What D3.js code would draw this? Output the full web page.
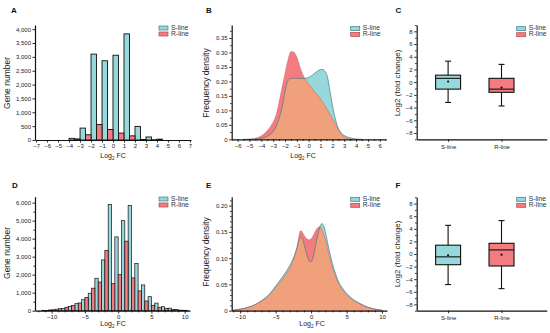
<!DOCTYPE html>
<html>
<head>
<meta charset="utf-8">
<script src="https://cdn.jsdelivr.net/npm/d3@7"></script>
<style>
  body { margin: 0; background: #fff; }
  svg { font-family: "Liberation Sans", Arial, sans-serif; }
  .axis text { font-size: 6px; fill: #222; }
  .axis path, .axis line { stroke: #111; }
</style>
</head>
<body>
<svg id="fig" width="550" height="333"></svg>
<script>
// ---- data ----
// A: histogram, bins of width 1 (bin start), S-line left half, R-line right half
const binsA = [-4, -3, -2, -1, 0, 1, 2, 3, 4];
const sA = [60, 430, 3100, 2860, 3060, 3830, 490, 110, 30];
const rA = [40, 190, 560, 380, 250, 150, 20, 10, 0];

// B: frequency density
const bX = [-5.5, -5, -4.5, -4, -3.5, -3, -2.75, -2.5, -2.25, -2, -1.75, -1.5, -1.25, -1, -0.75, -0.5, -0.25,
  0, 0.25, 0.5, 0.75, 1, 1.25, 1.5, 1.75, 2, 2.25, 2.5, 2.75, 3, 3.5, 4, 4.5];
const bS = [0, 0, 0.001, 0.004, 0.01, 0.026, 0.045, 0.072, 0.11, 0.165, 0.203, 0.21, 0.211, 0.211, 0.21, 0.21, 0.211,
  0.214, 0.22, 0.228, 0.236, 0.241, 0.24, 0.226, 0.178, 0.118, 0.07, 0.038, 0.022, 0.013, 0.005, 0.001, 0];
const bR = [0, 0.001, 0.004, 0.012, 0.03, 0.06, 0.085, 0.13, 0.18, 0.228, 0.275, 0.303, 0.301, 0.285, 0.252, 0.225, 0.205,
  0.19, 0.178, 0.165, 0.153, 0.14, 0.125, 0.108, 0.09, 0.072, 0.052, 0.033, 0.018, 0.008, 0.001, 0, 0];

// C: box plots
const boxCats = ["S-line", "R-line"];
const cMin = [-3.2, -3.75], cQ1 = [-1.1, -1.6], cMed = [0.6, -1.1], cQ3 = [1.1, 0.6], cMax = [3.3, 2.8], cMean = [0.1, -0.85];

// D: histogram, bins of width 1 (bin centre)
const binsD = [-11, -10, -9, -8, -7, -6, -5, -4, -3, -2, -1, 0, 1, 2, 3, 4, 5, 6, 7, 8, 9, 10];
const sD = [15, 40, 80, 130, 240, 390, 610, 970, 1800, 2820, 5900, 4100, 5000, 5850, 2620, 1430, 780, 420, 220, 140, 70, 25];
const rD = [20, 50, 110, 190, 290, 430, 740, 1250, 1590, 3350, 1500, 2000, 3860, 1820, 1100, 540, 300, 190, 130, 70, 30, 10];

// E: frequency density
const eX = [-11, -10, -9, -8, -7, -6, -5, -4, -3, -2.5, -2, -1.75, -1.5, -1.25, -1, -0.75, -0.5, -0.25,
  0, 0.25, 0.5, 0.75, 1, 1.25, 1.5, 1.75, 2, 2.5, 3, 3.5, 4, 5, 6, 7, 8, 9, 10];
const eS = [0.001, 0.003, 0.006, 0.011, 0.019, 0.03, 0.047, 0.065, 0.086, 0.1, 0.12, 0.133, 0.14, 0.137, 0.127, 0.113, 0.102, 0.094,
  0.093, 0.1, 0.115, 0.133, 0.148, 0.16, 0.166, 0.162, 0.15, 0.118, 0.09, 0.068, 0.052, 0.033, 0.021, 0.013, 0.007, 0.003, 0.001];
const eR = [0.001, 0.003, 0.006, 0.011, 0.018, 0.028, 0.044, 0.061, 0.081, 0.097, 0.12, 0.14, 0.152, 0.15, 0.144, 0.139, 0.136, 0.135,
  0.137, 0.142, 0.149, 0.155, 0.159, 0.16, 0.155, 0.146, 0.136, 0.108, 0.082, 0.063, 0.048, 0.03, 0.019, 0.012, 0.006, 0.003, 0.001];

// F: box plots
const fMin = [-4.85, -5.5], fQ1 = [-1.7, -1.9], fMed = [-0.45, 0.65], fQ3 = [1.4, 1.7], fMax = [4.55, 5.3], fMean = [-0.2, -0.1];

const series = ["S-line", "R-line"];

// ---- style ----
const cyan = "#97d8dd", red = "#f47c80", orange = "#f0a07b";
const cyanLine = "#3e7c80", redLine = "#b3474b";

const svg = d3.select("#fig");

function addAxis(axis, tx, ty) {
  const a = svg.append("g").attr("class", "axis")
    .attr("transform", "translate(" + tx + "," + ty + ")").call(axis);
  a.select(".domain").attr("stroke-width", 1.2);
  a.selectAll(".tick line").attr("stroke-width", 0.9);
  return a;
}
function addMinor(axis, tx, ty) {
  addAxis(axis.tickFormat("").tickSize(1.6), tx, ty).select(".domain").remove();
}
function letter(t, x, y) {
  svg.append("text").attr("x", x).attr("y", y).text(t)
    .attr("font-size", 8).attr("font-weight", "bold").attr("fill", "#111");
}
function yLabel(t, x, y, size) {
  svg.append("text").attr("transform", "translate(" + x + "," + y + ") rotate(-90)")
    .attr("text-anchor", "middle").attr("font-size", size).attr("fill", "#222").text(t);
}
function log2fc(x, y) {
  const t = svg.append("text").attr("x", x).attr("y", y).attr("text-anchor", "middle")
    .attr("font-size", 7).attr("fill", "#222");
  t.append("tspan").text("Log");
  t.append("tspan").attr("font-size", 4.5).attr("dy", 1.5).text("2");
  t.append("tspan").attr("dy", -1.5).text(" FC");
}
function legend(x, y) {
  const g = svg.append("g").attr("transform", "translate(" + x + "," + y + ")");
  const rows = g.selectAll("g").data(series).join("g")
    .attr("transform", (d, i) => "translate(0," + i * 6 + ")");
  rows.append("rect").attr("width", 9).attr("height", 4)
    .attr("fill", (d, i) => i ? red : cyan)
    .attr("stroke", (d, i) => i ? redLine : cyanLine).attr("stroke-width", 0.7);
  rows.append("text").attr("x", 12).attr("y", 3.6).attr("font-size", 6.8).attr("fill", "#333").text(d => d);
}
const fmtComma = d3.format(",");

// ---- histogram panels ----
function histogram(bins, sv, rv, x, y, left, sOff, rOff, sw) {
  const g = svg.append("g");
  g.selectAll("rect.s").data(bins).join("rect").attr("class", "s")
    .attr("x", (d, i) => x(d + sOff)).attr("width", x(0.5) - x(0))
    .attr("y", (d, i) => y(sv[i])).attr("height", (d, i) => y(0) - y(sv[i]))
    .attr("fill", cyan).attr("stroke", "#111").attr("stroke-width", sw);
  g.selectAll("rect.r").data(bins).join("rect").attr("class", "r")
    .attr("x", (d, i) => x(d + rOff)).attr("width", x(0.5) - x(0))
    .attr("y", (d, i) => y(rv[i])).attr("height", (d, i) => y(0) - y(rv[i]))
    .attr("fill", red).attr("stroke", "#111").attr("stroke-width", sw);
}

// A
const xA = d3.scaleLinear().domain([-7.1, 7.1]).range([35, 191]);
const yA = d3.scaleLinear().domain([0, 4150]).range([140, 25]);
histogram(binsA, sA, rA, xA, yA, 35, 0, 0.5, 0.9);
addAxis(d3.axisLeft(yA).tickValues(d3.range(0, 4001, 500)).tickFormat(fmtComma).tickSize(2.5).tickPadding(1.5).tickSizeOuter(0), 35, 0);
addAxis(d3.axisBottom(xA).tickValues(d3.range(-7, 8)).tickSize(2.5).tickPadding(1.5).tickSizeOuter(0), 0, 140);
letter("A", 11, 12.5);
yLabel("Gene number", 10, 83, 8.5);
log2fc(113, 158);
legend(159, 26);

// D
const xD = d3.scaleLinear().domain([-12.5, 10.8]).range([35, 190]);
const yD = d3.scaleLinear().domain([0, 6330]).range([310.7, 196.7]);
histogram(binsD, sD, rD, xD, yD, 35, -0.5, 0, 0.7);
addAxis(d3.axisLeft(yD).tickValues(d3.range(0, 6001, 1000)).tickFormat(fmtComma).tickSize(2.5).tickPadding(1.5).tickSizeOuter(0), 35, 0);
addMinor(d3.axisLeft(yD).tickValues(d3.range(500, 6001, 1000)), 35, 0);
addAxis(d3.axisBottom(xD).tickValues([-10, -5, 0, 5, 10]).tickSize(2.8).tickPadding(1.2).tickSizeOuter(0), 0, 310.7);
addMinor(d3.axisBottom(xD).tickValues(d3.range(-12, 11).filter(v => v % 5)), 0, 310.7);
letter("D", 12, 187.7);
yLabel("Gene number", 10, 253, 8.5);
log2fc(113, 326);
legend(159, 197);

// ---- density panels ----
let clipId = 0;
function density(xs, sv, rv, x, y) {
  const idx = d3.range(xs.length);
  const curve = d3.curveCatmullRom.alpha(0.5);
  const area = v => d3.area().x(i => x(xs[i])).y0(y(0)).y1(i => y(v[i])).curve(curve)(idx);
  const line = v => d3.line().x(i => x(xs[i])).y(i => y(v[i])).curve(curve)(idx);
  const g = svg.append("g");
  const id = "clipS" + (clipId++);
  g.append("clipPath").attr("id", id).append("path").attr("d", area(sv));
  g.append("path").attr("d", area(sv)).attr("fill", cyan);
  g.append("path").attr("d", area(rv)).attr("fill", red);
  g.append("path").attr("d", area(rv)).attr("fill", orange).attr("clip-path", "url(#" + id + ")");
  g.append("path").attr("d", line(sv)).attr("fill", "none").attr("stroke", cyanLine).attr("stroke-width", 0.8).attr("opacity", 0.85);
  g.append("path").attr("d", line(rv)).attr("fill", "none").attr("stroke", redLine).attr("stroke-width", 0.6).attr("opacity", 0.5);
}
const fmtDen = d => d === 0 ? "0" : d3.format(".2f")(d);

// B
const xB = d3.scaleLinear().domain([-6.5, 6.5]).range([231.7, 385.7]);
const yB = d3.scaleLinear().domain([0, 0.395]).range([139.3, 25]);
density(bX, bS, bR, xB, yB);
addAxis(d3.axisLeft(yB).tickValues(d3.range(0, 0.351, 0.05)).tickFormat(fmtDen).tickSize(2.5).tickPadding(1.5).tickSizeOuter(0), 231.7, 0);
addMinor(d3.axisLeft(yB).tickValues(d3.range(0.025, 0.39, 0.05)), 231.7, 0);
addAxis(d3.axisBottom(xB).tickValues(d3.range(-6, 7)).tickSize(2.5).tickPadding(1.5).tickSizeOuter(0), 0, 139.3);
addMinor(d3.axisBottom(xB).tickValues(d3.range(-6.5, 6.6, 1)), 0, 139.3);
letter("B", 206, 12.5);
yLabel("Frequency density", 209, 83, 8.5);
log2fc(303, 158);
legend(350.7, 26.5);

// E
const xE = d3.scaleLinear().domain([-11.2, 10.7]).range([231.7, 387]);
const yE = d3.scaleLinear().domain([0, 0.217]).range([310.7, 196.7]);
density(eX, eS, eR, xE, yE);
addAxis(d3.axisLeft(yE).tickValues([0, 0.05, 0.1, 0.15, 0.2]).tickFormat(fmtDen).tickSize(2.5).tickPadding(1.5).tickSizeOuter(0), 231.7, 0);
addMinor(d3.axisLeft(yE).tickValues(d3.range(0.01, 0.216, 0.01).filter(v => Math.abs(v * 20 - Math.round(v * 20)) > 0.01)), 231.7, 0);
addAxis(d3.axisBottom(xE).tickValues([-10, -5, 0, 5, 10]).tickSize(2.8).tickPadding(1.2).tickSizeOuter(0), 0, 310.7);
addMinor(d3.axisBottom(xE).tickValues(d3.range(-11, 11).filter(v => v % 5)), 0, 310.7);
letter("E", 206, 187.7);
yLabel("Frequency density", 209, 252, 8.5);
log2fc(312, 326);
legend(350.7, 197.3);

// ---- box panels ----
function boxes(mn, q1, med, q3, mx, mean, y, top, bottom) {
  const x = d3.scalePoint().domain(boxCats).range([416.7, 546.7]).padding(0.717).align(0.41);
  const g = svg.append("g");
  const b = g.selectAll("g").data(boxCats).join("g");
  b.append("line").attr("x1", d => x(d)).attr("x2", d => x(d))
    .attr("y1", (d, i) => y(mn[i])).attr("y2", (d, i) => y(mx[i])).attr("stroke", "#111").attr("stroke-width", 1.1);
  [mn, mx].forEach(arr => b.append("line").attr("x1", d => x(d) - 3).attr("x2", d => x(d) + 3)
    .attr("y1", (d, i) => y(arr[i])).attr("y2", (d, i) => y(arr[i])).attr("stroke", "#111").attr("stroke-width", 1.1));
  b.append("rect").attr("x", d => x(d) - 12.5).attr("width", 25)
    .attr("y", (d, i) => y(q3[i])).attr("height", (d, i) => y(q1[i]) - y(q3[i]))
    .attr("fill", (d, i) => i ? red : cyan).attr("stroke", "#111").attr("stroke-width", 1.1);
  b.append("line").attr("x1", d => x(d) - 12.5).attr("x2", d => x(d) + 12.5)
    .attr("y1", (d, i) => y(med[i])).attr("y2", (d, i) => y(med[i])).attr("stroke", "#111").attr("stroke-width", 1.1);
  b.append("circle").attr("cx", d => x(d)).attr("cy", (d, i) => y(mean[i])).attr("r", 1.1).attr("fill", "#111");
  addAxis(d3.axisLeft(y).tickValues(d3.range(-8, 9, 2)).tickSize(2.5).tickPadding(1.5).tickSizeOuter(0), 416.7, 0);
  addMinor(d3.axisLeft(y).tickValues(d3.range(-9, 10, 2)), 416.7, 0);
  const ax = addAxis(d3.axisBottom(x).tickSize(2.5).tickPadding(3).tickSizeOuter(0), 0, bottom);
  ax.selectAll("text").attr("font-size", 6.5);
}

// C
const yC = d3.scaleLinear().domain([-9, 9]).range([139.3, 25]);
boxes(cMin, cQ1, cMed, cQ3, cMax, cMean, yC, 25, 139.3);
letter("C", 395.5, 12.5);
yLabel("Log2 (fold change)", 400, 83, 8);
legend(516.7, 26.7);

// F
const yF = d3.scaleLinear().domain([-9, 9]).range([310.7, 197.3]);
boxes(fMin, fQ1, fMed, fQ3, fMax, fMean, yF, 197.3, 310.7);
letter("F", 395.5, 187.7);
yLabel("Log2 (fold change)", 400, 254, 8);
legend(516.7, 197.3);
</script>
</body>
</html>
